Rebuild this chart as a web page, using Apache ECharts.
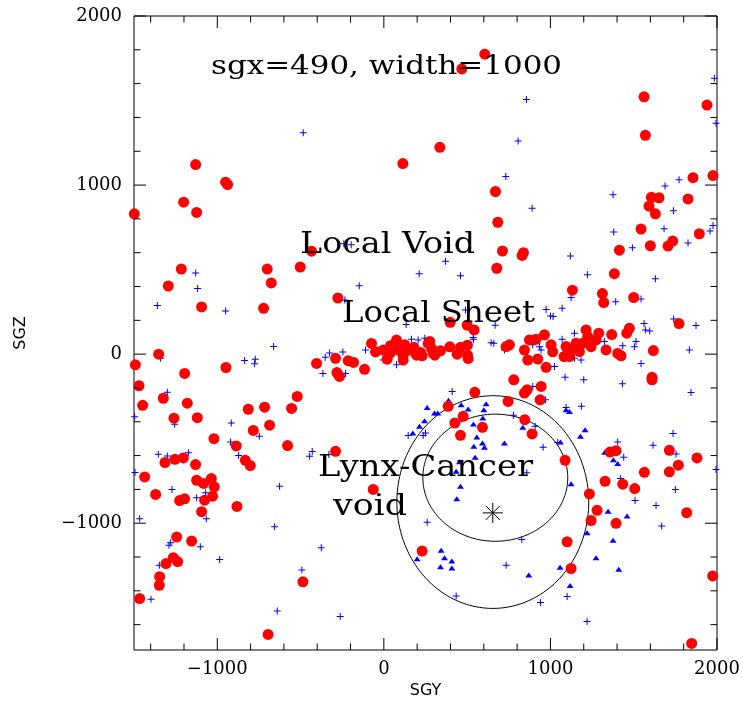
<!DOCTYPE html>
<html><head><meta charset="utf-8">
<script src="https://cdn.jsdelivr.net/npm/echarts/dist/echarts.min.js"></script>
<style>html,body{margin:0;padding:0;background:#fff}#c{width:743px;height:711px}</style>
</head><body><div id="c"></div>
<script>
// Axis ranges
const X_MIN = -1500, X_MAX = 2000, Y_MIN = -1750, Y_MAX = 2000;
const xLabelValues = [-1000, 0, 1000, 2000];
const yLabelValues = [-1000, 0, 1000, 2000];
const xMajorTicks = [-1000, 0, 1000, 2000];
const xMinorTicks = [-1400, -1200, -800, -600, -400, -200, 200, 400, 600, 800, 1200, 1400, 1600, 1800];
const yMajorTicks = [-1000, 0, 1000, 2000];
const yMinorTicks = [-1600, -1400, -1200, -800, -600, -400, -200, 200, 400, 600, 800, 1200, 1400, 1600, 1800];

// Red filled circles (SGY, SGZ)
const redSGY = [468,606,336,114,-1130,-950,-938,-1202,-1124,-1498,1562,1940,1570,1856,1976,1606,1652,1592,1630,1826,1544,1600,1706,1734,1894,1414,1384,1132,1312,1320,1500,1772,830,838,670,684,712,678,
 -1216,-1294,-1094,-700,-676,-722,-502,-434,-276,
 -1352,-1492,-1196,-948,-1470,-1324,-1180,-1448,-1260,-1120,-1020,-1314,-1254,-1204,-1130,-1436,-1124,-1082,-1036,-1018,-1028,-1076,-1370,-1226,-1196,-1094,-882,-1244,-1154,-1308,-1264,-1238,-1346,-1348,-1466,-486,-886,-832,-802,-814,-716,-784,-686,-554,-520,-578,-404,-290,-282,-266,-214,-182,-116,-74,-50,-290,-64,-695,
 546,386,844,944,746,938,476,426,592,460,846,890,1088,1234,1280,1244,1100,1124,230,
 1328,1358,1394,1434,1506,1394,1564,1714,1714,1768,1880,1818,1974,1848,1610,
 398,500,542,-4,36,76,86,116,116,156,196,266,286,306,396,502,502,506,126,276,296,754,734,844,864,874,914,964,924,974,1004,1014,1082,1094,1134,1154,1194,1214,1224,1274,1244,1290,1174,1334,1368,1404,1424,1458,1474,1618,1610,780,860,1114,
 40,180,230,340,440,460,20,220];
const redSGZ = [1687,1774,1223,1127,1121,1017,1003,899,838,830,1522,1473,1294,1044,1056,928,925,875,830,918,740,641,639,669,712,615,476,378,358,305,335,181,584,600,962,780,610,508,
 503,403,279,503,421,271,515,609,332,
 0,-63,-114,-79,-187,-261,-290,-303,-379,-376,-500,-641,-622,-614,-653,-726,-746,-765,-736,-785,-840,-864,-830,-866,-856,-932,-901,-1082,-1106,-1239,-1204,-1227,-1316,-1367,-1446,-1347,-543,-628,-659,-326,-314,-451,-420,-321,-250,-541,-55,-25,-109,-132,-39,-49,-90,63,14,-575,-800,-1658,
 -226,-309,-230,-191,-280,-270,-368,-408,-433,-480,-388,-472,-628,-827,-924,-984,-1110,-1268,-1165,
 -752,-579,-571,-769,-795,-1001,-699,-569,-696,-657,-614,-938,-1312,-1711,-152,
 188,171,143,24,4,83,24,-6,-35,24,-6,63,34,-6,43,53,-6,-26,55,75,4,55,45,24,-35,84,88,114,-29,-78,55,14,-14,45,35,65,65,143,104,84,44,124,15,25,116,4,-10,124,153,21,-137,-152,-211,-14,
 50,40,-10,20,0,40,-30,10];

// Blue plus markers (SGY, SGZ)
const plusSGY = [1984,1994,856,806,732,890,1376,1688,1772,1738,1682,1380,1492,1826,1958,1976,1120,1222,1630,1124,1392,1544,974,1000,1016,1070,1562,1570,1596,1874,1740,
 -484,-1130,-1118,-1360,-950,-148,-234,-240,-196,
 -1340,-1300,-1256,-1496,-1354,-1300,-1174,-1494,-1272,-1124,-1070,-1066,-1466,-1290,-1280,-1102,-1348,-1398,-986,-916,-920,-872,-836,-772,-776,-662,-748,-626,-656,-492,-376,-640,-262,-446,-430,-330,-366,-352,-326,-246,-230,-110,
 410,778,146,236,250,908,956,1044,858,260,828,734,434,940,1100,1186,970,1200,1432,1844,1094,1736,1404,1616,1440,1754,1420,1750,1508,1634,1668,1220,1994,
 370,212,460,490,134,668,536,644,660,76,166,206,246,454,344,934,538,336,724,894,944,1024,1070,1144,1144,1184,1324,1434,1514,1504,1544,1834,1088,894,-4];
const plusSGZ = [1632,1365,1506,1261,1050,863,942,994,1032,848,742,722,629,657,729,761,580,470,446,335,310,326,264,226,222,271,181,143,137,169,208,
 1309,480,388,287,255,405,320,653,647,
 -25,-226,-414,-370,-592,-602,-584,-700,-800,-850,-820,-973,-973,-1130,-1115,-1139,-1249,-1450,-1214,-407,-519,-600,-38,-30,-57,45,-486,-781,-1021,-1277,-1145,-1519,-1552,-604,-576,-594,-114,-18,6,12,-114,25,
 -221,-362,-482,-482,-466,-427,-551,-522,-702,-994,-1096,-1249,-1430,-1469,-1434,-309,-270,-151,-175,-227,-315,-470,-519,-539,-610,-590,-736,-801,-866,-895,-1017,-1581,-683,
 550,476,464,261,176,171,98,68,65,-63,88,84,94,44,15,44,88,25,25,55,25,-73,88,124,-25,-35,75,49,75,44,-55,25,-137,-191,-35];

// Blue triangles (SGY, SGZ)
const triSGY = [388,260,304,324,464,506,614,600,594,244,214,174,538,558,592,604,540,724,548,454,434,460,438,1124,834,1208,1180,1094,1114,1220,1274,344,364,200,408,340,408,870,1058,1118,1060,1326,1378,1404,1346,1460,1376,1410];
const triSGZ = [-273,-315,-348,-348,-299,-325,-293,-329,-378,-394,-427,-466,-413,-490,-525,-551,-545,-525,-610,-637,-693,-781,-856,-767,-433,-447,-486,-329,-339,-1056,-1204,-1160,-1204,-1210,-1224,-1257,-1265,-1306,-1261,-1369,-520,-580,-624,-647,-929,-958,-1101,-1273];

// Lynx-Cancer void: ellipse centres and radii (SGY, SGZ, rY, rZ)
const voidShapes = [[654, -875, 576, 629], [669, -731, 435, 376]];
const voidCentre = [654, -939];

function zip(a, b) { return a.map((v, i) => [v, b[i]]); }
const fmtNum = v => (v < 0 ? '\u2212' + Math.abs(v) : String(v));

function tickSeries(values, isX, len) {
  return {
    type: 'custom', silent: true, z: 6, clip: false,
    data: values.map(v => isX ? [v, 0] : [0, v]),
    renderItem(params, api) {
      const ln = (x1, y1, x2, y2) => ({ type: 'line', shape: { x1, y1, x2, y2 }, style: { stroke: '#000', lineWidth: 1 } });
      if (isX) {
        const v = api.value(0);
        const b = api.coord([v, Y_MIN]), t = api.coord([v, Y_MAX]);
        return { type: 'group', children: [ln(b[0], b[1], b[0], b[1] - len), ln(t[0], t[1], t[0], t[1] + len)] };
      } else {
        const v = api.value(1);
        const l = api.coord([X_MIN, v]), r = api.coord([X_MAX, v]);
        return { type: 'group', children: [ln(l[0], l[1], l[0] + len, l[1]), ln(r[0], r[1], r[0] - len, r[1])] };
      }
    }
  };
}

const mctx = document.createElement('canvas').getContext('2d');
function fitScale(text, font, target) { mctx.font = font; return target / mctx.measureText(text).width; }
function label(text, x, baseline, fs, target) {
  const font = fs + 'px "DejaVu Serif"';
  return { type: 'text', x: x, y: baseline - 0.3 * fs, scaleX: fitScale(text, font, target), z: 100,
    style: { text: text, font: font, fill: '#000', align: 'left', verticalAlign: 'middle' } };
}

const chart = echarts.init(document.getElementById('c'), null, { renderer: 'canvas' });
chart.setOption({
  animation: false,
  backgroundColor: '#fff',
  grid: { left: 134, right: 26, top: 16, bottom: 61, show: true, borderColor: '#000', borderWidth: 1, backgroundColor: 'transparent' },
  xAxis: {
    type: 'value', min: X_MIN, max: X_MAX, splitNumber: 3,
    axisLine: { show: false }, axisTick: { show: false }, splitLine: { show: false },
    axisLabel: { color: '#000', fontFamily: 'DejaVu Serif', fontSize: 18, margin: 10,
      formatter: v => xLabelValues.includes(v) ? fmtNum(v) : '' },
    name: 'SGY', nameLocation: 'middle', nameGap: 32,
    nameTextStyle: { color: '#000', fontFamily: 'DejaVu Sans', fontSize: 16 }
  },
  yAxis: {
    type: 'value', min: Y_MIN, max: Y_MAX, splitNumber: 3,
    axisLine: { show: false }, axisTick: { show: false }, splitLine: { show: false },
    axisLabel: { color: '#000', fontFamily: 'DejaVu Serif', fontSize: 18, margin: 12,
      formatter: v => yLabelValues.includes(v) ? fmtNum(v) : '' },
    name: 'SGZ', nameLocation: 'middle', nameGap: 105,
    nameTextStyle: { color: '#000', fontFamily: 'DejaVu Sans', fontSize: 16 }
  },
  series: [
    {
      type: 'custom', silent: true, z: 1, clip: false, data: voidShapes,
      renderItem(params, api) {
        const c = api.coord([api.value(0), api.value(1)]);
        const s = api.size([api.value(2), api.value(3)], [api.value(0), api.value(1)]);
        const pts = [];
        for (let k = 0; k <= 180; k++) { const a = k / 180 * 2 * Math.PI; pts.push([c[0] + s[0] * Math.cos(a), c[1] + s[1] * Math.sin(a)]); }
        return { type: 'polyline', shape: { points: pts }, style: { fill: 'none', stroke: '#000', lineWidth: 1 } };
      }
    },
    {
      type: 'scatter', z: 2, silent: true, data: zip(plusSGY, plusSGZ),
      symbol: 'path://M3,0H4V7H3Z M0,3H7V4H0Z', symbolSize: 7,
      itemStyle: { color: '#0000ff', opacity: 1 }
    },
    {
      type: 'scatter', z: 3, silent: true, data: zip(triSGY, triSGZ),
      symbol: 'triangle', symbolSize: [7, 5],
      itemStyle: { color: '#0000ff', opacity: 1 }
    },
    {
      type: 'scatter', z: 4, silent: true, data: zip(redSGY, redSGZ),
      symbol: 'circle', symbolSize: 11,
      itemStyle: { color: '#ff0000', opacity: 1 }
    },
    {
      type: 'custom', silent: true, z: 5, clip: false, data: [voidCentre],
      renderItem(params, api) {
        const c = api.coord([api.value(0), api.value(1)]);
        const r = 10, d = r * Math.SQRT1_2;
        const ln = (x1, y1, x2, y2) => ({ type: 'line', shape: { x1, y1, x2, y2 }, style: { stroke: '#000', lineWidth: 1 } });
        return { type: 'group', children: [
          ln(c[0], c[1] - r, c[0], c[1] + r), ln(c[0] - r, c[1], c[0] + r, c[1]),
          ln(c[0] - d, c[1] - d, c[0] + d, c[1] + d), ln(c[0] - d, c[1] + d, c[0] + d, c[1] - d)] };
      }
    },
    tickSeries(xMajorTicks, true, 12),
    tickSeries(xMinorTicks, true, 6.5),
    tickSeries(yMajorTicks, false, 12),
    tickSeries(yMinorTicks, false, 6.5)
  ],
  graphic: [
    label('sgx=490, width=1000', 211, 75, 26, 351),
    label('Local Void', 300, 254, 29, 175),
    label('Local Sheet', 342, 323, 29, 193),
    label('Lynx-Cancer', 318, 477, 29, 215),
    label('void', 333, 516, 29, 74)
  ]
});
</script>
</body></html>
